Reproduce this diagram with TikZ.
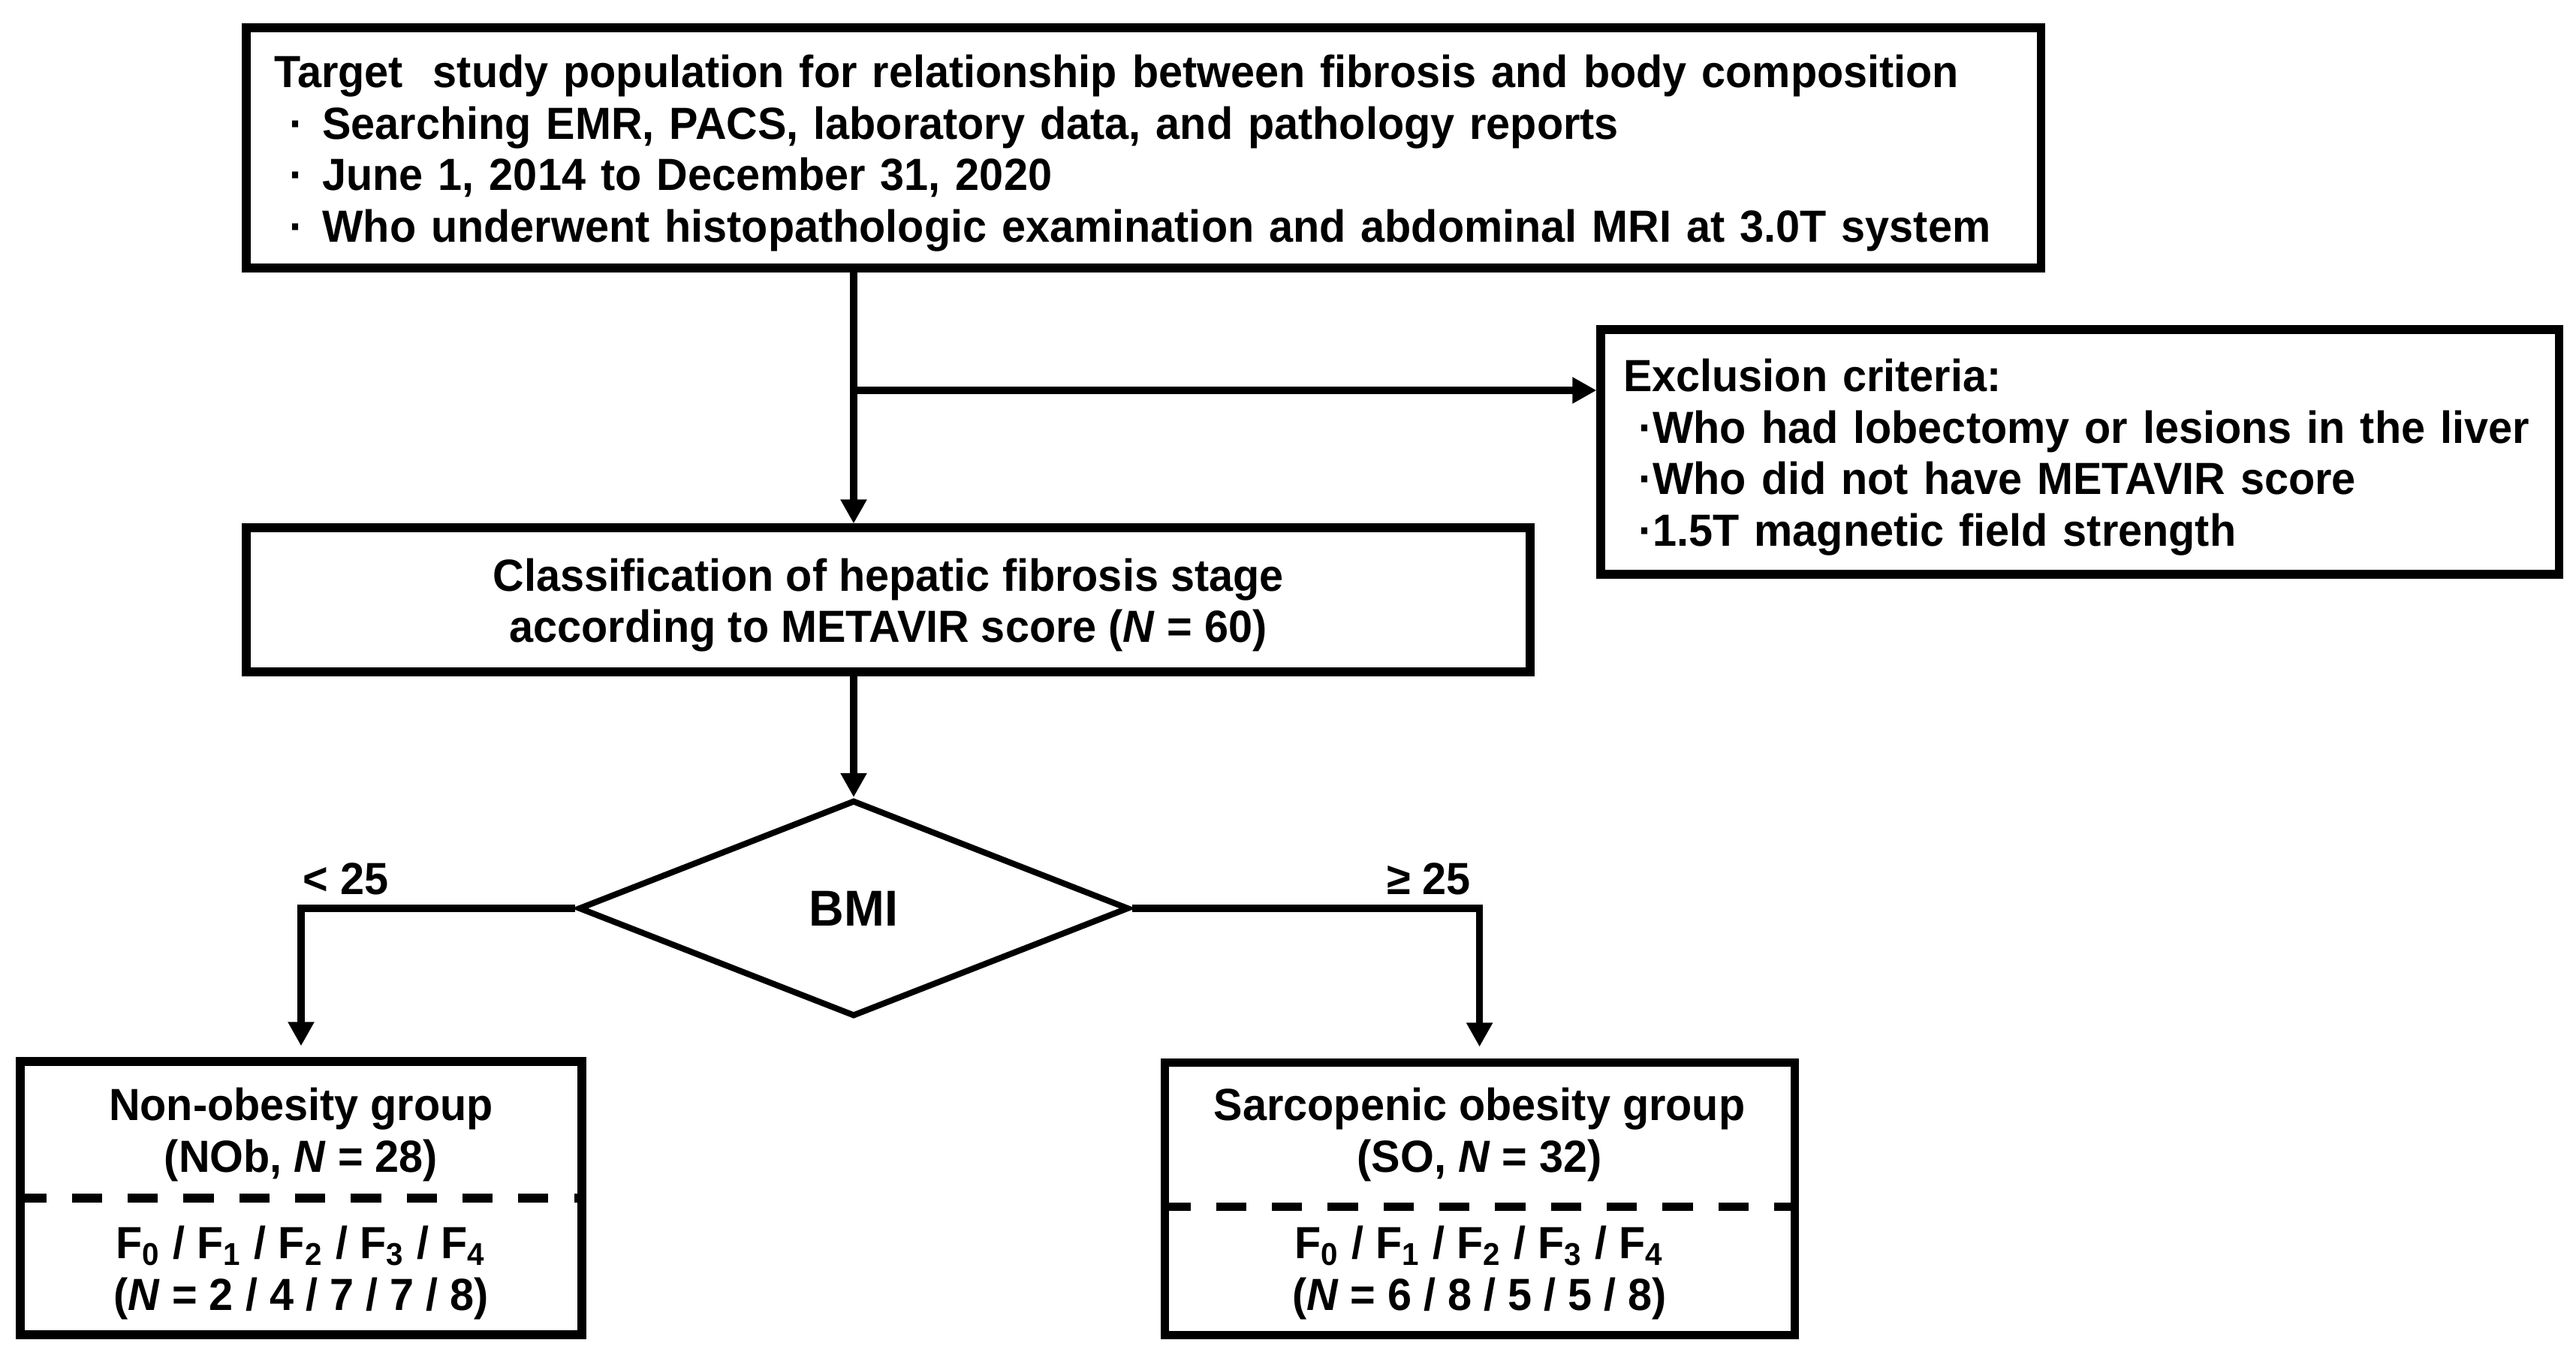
\documentclass[tikz,border=0pt]{standalone}
\usepackage{fontspec}
\setmainfont[FakeStretch=0.96]{Liberation Sans}
\usetikzlibrary{arrows.meta,shapes.geometric}

\newcommand{\cale}{\rule{0pt}{11.5pt}} % baisse un peu le texte dans les boites

\tikzset{
    boite/.style={draw, line width=2.2pt, inner xsep=7.4pt, inner ysep=0pt, align=center},
    losange/.style={diamond, draw, line width=1.6pt, inner sep=0pt, minimum width=5.131cm, minimum height=2.016cm, font=\fontsize{13.4pt}{15pt}\selectfont\bfseries},
    fleche/.style={line width=1.8pt, -{Triangle[width=6.6pt,length=6.4pt]}},
    pointilles/.style={line width=2.2pt, dash pattern=on 8pt off 6.8pt},
    seuil/.style={inner sep=0pt}
}

\begin{document}
\begin{tikzpicture}[font=\fontsize{11.95pt}{13.74pt}\selectfont\bfseries]
            \useasboundingbox (0, 0) rectangle (24.017, -12.607);

            \node[boite, minimum width=16.73cm, minimum height=2.24cm, text width=16.21cm, align=left] (cible) at (10.661, -1.379) {\cale Target~ study population for relationship between fibrosis and body composition\\
            \hspace*{4pt}·\hspace{5pt}Searching EMR, PACS, laboratory data, and pathology reports\\
            \hspace*{4pt}·\hspace{5pt}June 1, 2014 to December 31, 2020\\
            \hspace*{4pt}·\hspace{5pt}Who underwent histopathologic examination and abdominal MRI at 3.0T system}; %population cible

            \node[boite, inner xsep=6pt, minimum width=8.932cm, minimum height=2.282cm, text width=8.51cm, align=left] (exclu) at (19.39, -4.214) {\cale Exclusion criteria:\\
            \hspace*{4pt}·Who had lobectomy or lesions in the liver\\
            \hspace*{4pt}·Who did not have METAVIR score\\
            \hspace*{4pt}·1.5T magnetic field strength}; %exclusion

            \node[boite, minimum width=11.97cm, minimum height=1.344cm] (classe) at (8.281, -5.593) {\cale Classification of hepatic fibrosis stage\\according to METAVIR score (\textit{N} = 60)}; %classification

            \node[losange] (bmi) at (7.959, -8.47) {BMI}; %losange BMI

            \node[boite, minimum width=5.236cm, minimum height=2.548cm] (nob) at (2.807, -11.172) {\cale Non-obesity group\\(NOb, \textit{N} = 28)\\[9.2pt]F\textsubscript{0} / F\textsubscript{1} / F\textsubscript{2} / F\textsubscript{3} / F\textsubscript{4}\\(\textit{N} = 2 / 4 / 7 / 7 / 8)}; %groupe NOb

            \node[boite, minimum width=5.873cm, minimum height=2.541cm] (so) at (13.794, -11.176) {\cale Sarcopenic obesity group\\(SO, \textit{N} = 32)\\[9.2pt]F\textsubscript{0} / F\textsubscript{1} / F\textsubscript{2} / F\textsubscript{3} / F\textsubscript{4}\\(\textit{N} = 6 / 8 / 5 / 5 / 8)}; %groupe SO

            \draw[pointilles] (nob.west) -- (nob.east); %separation NOb
            \draw[pointilles] ([yshift=-2.1pt]so.west) -- ([yshift=-2.1pt]so.east); %separation SO

            \coordinate (embr) at (7.959, -3.64); %embranchement vers exclusion

            \draw[fleche] (cible.south -| bmi) -- (classe.north -| bmi); %cible -> classification
            \draw[fleche] (embr) -- (embr -| exclu.west); %-> exclusion
            \draw[fleche] (classe.south -| bmi) -- (bmi.north); %classification -> BMI
            \draw[fleche, shorten >=3pt] (bmi.west) -| (nob.north); %BMI -> NOb
            \draw[fleche, shorten >=3pt] (bmi.east) -| (so.north); %BMI -> SO

            \node[seuil, anchor=base west] (bas) at (2.82, -8.344) {< 25};
            \node[seuil, anchor=base east] (haut) at (13.72, -8.344) {≥ 25};
        \end{tikzpicture}
\end{document}
